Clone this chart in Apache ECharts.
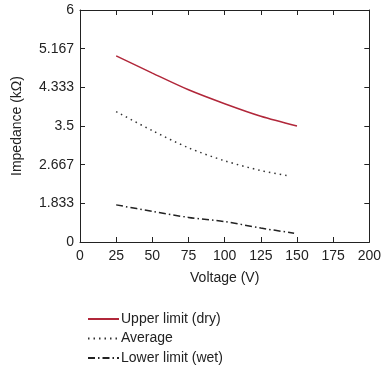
<!DOCTYPE html>
<html>
<head>
<meta charset="utf-8">
<script src="https://cdn.jsdelivr.net/npm/echarts@6/dist/echarts.min.js"></script>
<style>html,body{margin:0;padding:0;background:#fff;}#c{width:384px;height:373px;}</style>
</head>
<body>
<div id="c"></div>
<script>
// Voltage (V) vs impedance (kΩ)
var upperLimit = [[25, 5.01], [50, 4.64], [75, 4.28], [100, 3.98], [125, 3.71], [150, 3.50]];
var average = [[25, 3.81], [50, 3.40], [75, 3.03], [100, 2.75], [125, 2.54], [145, 2.42]];
var lowerLimit = [[25, 1.80], [50, 1.66], [75, 1.53], [100, 1.44], [125, 1.30], [148, 1.19]];
var seriesNames = ['Upper limit (dry)', 'Average', 'Lower limit (wet)'];
var yTickLabels = ['0', '1.833', '2.667', '3.5', '4.333', '5.167', '6'];
var yMin = 1, yMax = 6, yStep = 5 / 6;

var font = 'Liberation Sans, Arial, sans-serif';
var chart = echarts.init(document.getElementById('c'), null, {renderer: 'canvas'});
function yLabel(v) {
  var i = Math.round((v - yMin) / yStep);
  return yTickLabels[i] !== undefined ? yTickLabels[i] : '';
}
function line() { return {show: true, onZero: false, lineStyle: {color: '#222', width: 1}}; }
function tick() { return {show: true, inside: true, length: 5, lineStyle: {color: '#222', width: 1}}; }
chart.setOption({
  animation: false,
  grid: {left: 80, right: 13, top: 10, bottom: 131, containLabel: false},
  xAxis: [
    {
      type: 'value', min: 0, max: 200, interval: 25, position: 'bottom',
      axisLine: line(), axisTick: tick(), splitLine: {show: false},
      name: 'Voltage (V)', nameLocation: 'middle', nameGap: 29,
      nameTextStyle: {fontFamily: font, fontSize: 14, color: '#222'},
      axisLabel: {fontFamily: font, fontSize: 14, color: '#222', margin: 7}
    },
    {
      type: 'value', min: 0, max: 200, interval: 25, position: 'top',
      axisLine: line(), axisTick: tick(), splitLine: {show: false},
      axisLabel: {show: false}
    }
  ],
  yAxis: [
    {
      type: 'value', min: yMin, max: yMax, interval: yStep, position: 'left',
      axisLine: line(), axisTick: tick(), splitLine: {show: false},
      name: 'Impedance (kΩ)', nameLocation: 'middle', nameGap: 56,
      nameTextStyle: {fontFamily: font, fontSize: 14, color: '#222'},
      axisLabel: {fontFamily: font, fontSize: 14, color: '#222', margin: 6, formatter: yLabel}
    },
    {
      type: 'value', min: yMin, max: yMax, interval: yStep, position: 'right',
      axisLine: line(), axisTick: tick(), splitLine: {show: false},
      axisLabel: {show: false}
    }
  ],
  legend: {
    orient: 'vertical', left: 82, top: 307, itemGap: 5.5, itemWidth: 31, itemHeight: 15,
    itemStyle: {opacity: 0},
    textStyle: {fontFamily: font, fontSize: 14, color: '#222', padding: [0, 0, 0, -3]},
    data: seriesNames
  },
  series: [
    {name: seriesNames[0], type: 'line', data: upperLimit, smooth: 0.3, symbol: 'none',
     lineStyle: {color: '#b1273a', width: 1.5}, itemStyle: {color: '#b1273a'}},
    {name: seriesNames[1], type: 'line', data: average, smooth: 0.3, symbol: 'none',
     lineStyle: {color: '#333', width: 1.5, type: [1.5, 4]}, itemStyle: {color: '#333'}},
    {name: seriesNames[2], type: 'line', data: lowerLimit, smooth: 0.3, symbol: 'none',
     lineStyle: {color: '#222', width: 1.5, type: [7, 3, 1.5, 3]}, itemStyle: {color: '#222'}}
  ]
});
</script>
</body>
</html>
